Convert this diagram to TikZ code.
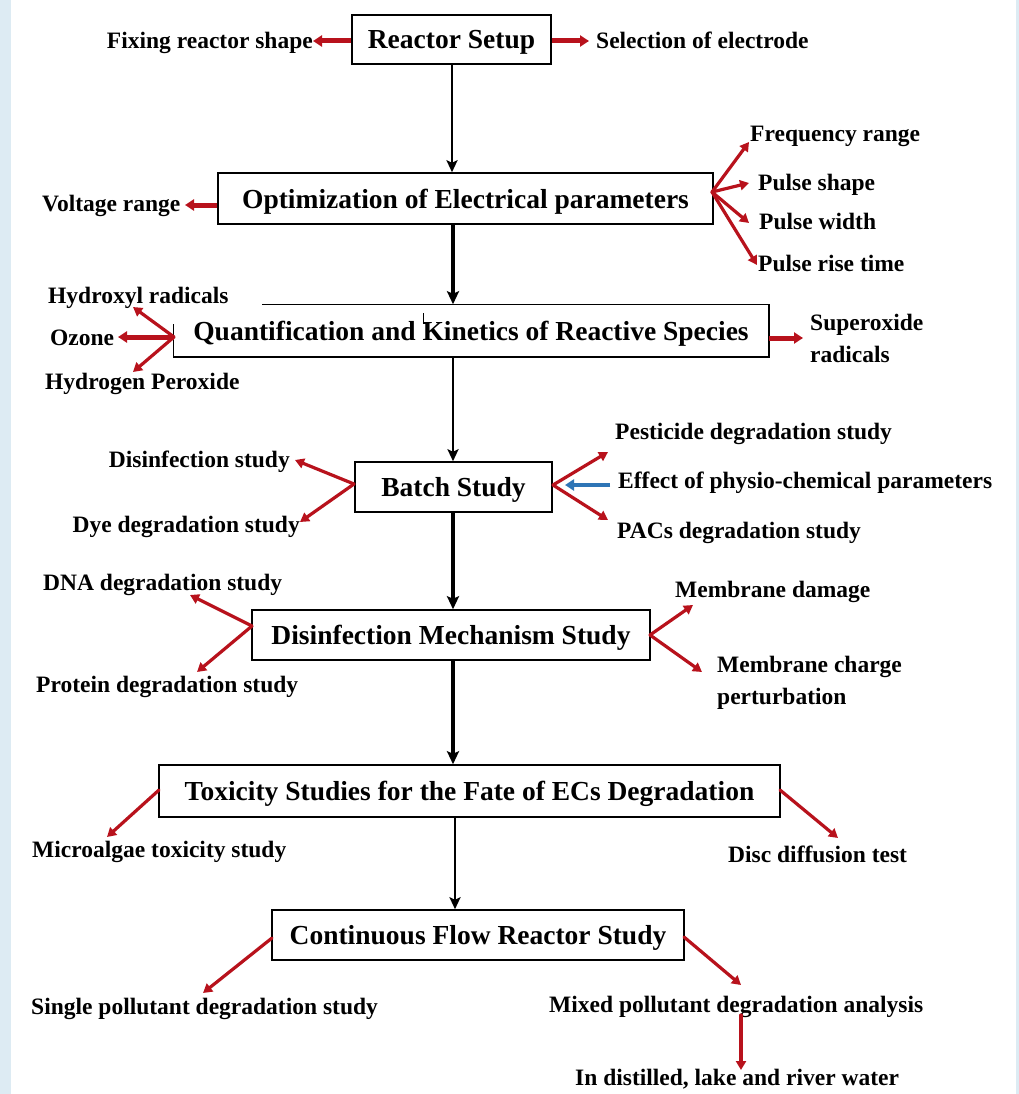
\documentclass[tikz,border=0pt]{standalone}
\usepackage{fontspec}
\setmainfont{Liberation Serif}
\usetikzlibrary{arrows.meta}
\definecolor{arrred}{HTML}{B8121C}
\definecolor{arrblue}{HTML}{2E75B6}
\definecolor{stripblue}{HTML}{DDEBF3}
\begin{document}
\begin{tikzpicture}[x=1pt,y=-1pt,
  box/.style={draw,line width=1.5pt,inner sep=0pt,text height=21pt,text depth=2pt,
    font=\fontsize{27.5}{30}\selectfont\bfseries},
  lbl/.style={inner sep=0pt,font=\fontsize{23.5}{32}\selectfont\bfseries},
  flow/.style={line width=3.6pt,-{Stealth[length=13pt,width=12pt,inset=2.5pt]}},
  flowthin/.style={line width=2.4pt,-{Stealth[length=12pt,width=11pt,inset=2.5pt]}},
  rarr/.style={draw=arrred,line width=3.2pt,line cap=round,-{Triangle[length=9pt,width=10pt]}},
  rthick/.style={draw=arrred,line width=5pt,-{Triangle[length=9pt,width=11pt]}},
  barr/.style={draw=arrblue,line width=4.5pt,-{Triangle[length=9pt,width=11pt]}}
]
\useasboundingbox (0,0) rectangle (1019,1094);
\fill[white] (0,0) rectangle (1019,1094);
\fill[stripblue] (0,0) rectangle (11,1094);
\fill[stripblue] (1016,0) rectangle (1019,1094);

% main boxes
\node[box,minimum width=199pt,minimum height=49pt] (setup) at (451.5,39.5) {Reactor Setup};
\node[box,minimum width=495pt,minimum height=51pt] (opt) at (465.5,198.5) {Optimization of Electrical parameters};
\node[box,draw=none,minimum width=594pt,minimum height=51pt] (quant) at (471,330.5) {Quantification and Kinetics of Reactive Species};
\draw[line width=1.5pt] (quant.north west) ++(89,0) -- (quant.north east) -- (quant.south east) -- (quant.south west) -- ++(0,-33);
\draw[line width=1pt] (423,313) -- (423,323) -- (426,323);
\node[box,minimum width=197pt,minimum height=50pt] (batch) at (453.5,487) {Batch Study};
\node[box,minimum width=398pt,minimum height=50pt] (mech) at (451,635) {Disinfection Mechanism Study};
\node[box,minimum width=621pt,minimum height=52pt] (tox) at (469.5,791) {Toxicity Studies for the Fate of ECs Degradation};
\node[box,minimum width=412pt,minimum height=50pt] (cont) at (478,935) {Continuous Flow Reactor Study};

% main flow
\draw[flowthin] (setup.south -| 452,0) -- (opt.north -| 452,0);
\draw[flow] (opt.south -| 453,0) -- (quant.north -| 453,0);
\draw[flowthin] (quant.south -| 453,0) -- (batch.north -| 453,0);
\draw[flow] (batch.south -| 453,0) -- (mech.north -| 453,0);
\draw[flow] (mech.south -| 453,0) -- (tox.north -| 453,0);
\draw[flowthin] (tox.south -| 455,0) -- (cont.north -| 455,0);

% labels
\node[lbl,anchor=base east] (fix) at (313,48.5) {Fixing reactor shape};
\node[lbl,anchor=base west] (sel) at (596,48.5) {Selection of electrode};
\node[lbl,anchor=base west] (volt) at (42,211.5) {Voltage range};
\node[lbl,anchor=base west] (freq) at (750,142) {Frequency range};
\node[lbl,anchor=base west] (pshape) at (758,190.5) {Pulse shape};
\node[lbl,anchor=base west] (pwidth) at (759,229.5) {Pulse width};
\node[lbl,anchor=base west] (prise) at (758,271.5) {Pulse rise time};
\node[lbl,anchor=base west] (hydroxyl) at (48,303.5) {Hydroxyl radicals};
\node[lbl,anchor=base west] (ozone) at (50,345.5) {Ozone};
\node[lbl,anchor=base west] (perox) at (45,389.5) {Hydrogen Peroxide};
\node[lbl,anchor=base west,align=left] (super) at (810,362.5) {Superoxide\\radicals};
\node[lbl,anchor=base east] (disinf) at (290,467.5) {Disinfection study};
\node[lbl,anchor=base east] (dye) at (300,532) {Dye degradation study};
\node[lbl,anchor=base west] (pest) at (615,439.5) {Pesticide degradation study};
\node[lbl,anchor=base west] (effect) at (618,488) {Effect of physio-chemical parameters};
\node[lbl,anchor=base west] (pacs) at (617,538.5) {PACs degradation study};
\node[lbl,anchor=base west] (dna) at (43,590) {DNA degradation study};
\node[lbl,anchor=base west] (protein) at (36,692.5) {Protein degradation study};
\node[lbl,anchor=base west] (memdam) at (675,597.5) {Membrane damage};
\node[lbl,anchor=base west,align=left] (memch) at (717,704.5) {Membrane charge\\perturbation};
\node[lbl,anchor=base west] (micro) at (32,857.5) {Microalgae toxicity study};
\node[lbl,anchor=base west] (disc) at (728,862.5) {Disc diffusion test};
\node[lbl,anchor=base west] (single) at (31,1014.5) {Single pollutant degradation study};
\node[lbl,anchor=base west] (mixed) at (549,1012.5) {Mixed pollutant degradation analysis};
\node[lbl,anchor=base west] (indist) at (575,1085.5) {In distilled, lake and river water};

% fan origins and tips
\coordinate (oOpt) at (712,192);
\coordinate (tFreq) at (749,142);
\coordinate (tShape) at (749,183);
\coordinate (tWidth) at (749,223);
\coordinate (tRise) at (757,265);
\coordinate (oQ) at (174,337);
\coordinate (tHyd) at (133,307);
\coordinate (tOz) at (118,337);
\coordinate (tPer) at (133,372);
\coordinate (oBL) at (354,484);
\coordinate (tDis) at (295,460);
\coordinate (tDye) at (300,522);
\coordinate (oBR) at (553,485);
\coordinate (tPest) at (608,452);
\coordinate (tPacs) at (608,520);
\coordinate (tEff) at (565,485);
\coordinate (oML) at (252,626);
\coordinate (tDna) at (190,595);
\coordinate (tProt) at (197,672);
\coordinate (oMR) at (650,635);
\coordinate (tMd) at (693,605);
\coordinate (tMc) at (702,672);
\coordinate (oTL) at (159,790);
\coordinate (tMic) at (107,837);
\coordinate (oTR) at (780,790);
\coordinate (tDisc) at (838,838);
\coordinate (oCL) at (272,938);
\coordinate (tSin) at (203,993);
\coordinate (oCR) at (684,937);
\coordinate (tMix) at (741,985);
\coordinate (oMix) at (741,1015);
\coordinate (tInd) at (741,1070);

% red connectors
\draw[rthick] (setup.west |- 0,41) -- (fix.east |- 0,41);
\draw[rthick] (setup.east |- 0,41) -- (589,41);
\draw[rthick] (opt.west |- 0,205) -- (185,205);
\draw[rarr] (oOpt) -- (tFreq);
\draw[rarr] (oOpt) -- (tShape);
\draw[rarr] (oOpt) -- (tWidth);
\draw[rarr] (oOpt) -- (tRise);
\draw[rarr] (oQ) -- (tHyd);
\draw[rthick] (oQ) -- (tOz);
\draw[rarr] (oQ) -- (tPer);
\draw[rthick] (quant.east |- 0,338) -- (803,338);
\draw[rarr] (oBL) -- (tDis);
\draw[rarr] (oBL) -- (tDye);
\draw[rarr] (oBR) -- (tPest);
\draw[rarr] (oBR) -- (tPacs);
\draw[barr] (610,485) -- (tEff);
\draw[rarr] (oML) -- (tDna);
\draw[rarr] (oML) -- (tProt);
\draw[rarr] (oMR) -- (tMd);
\draw[rarr] (oMR) -- (tMc);
\draw[rarr] (oTL) -- (tMic);
\draw[rarr] (oTR) -- (tDisc);
\draw[rarr] (oCL) -- (tSin);
\draw[rarr] (oCR) -- (tMix);
\draw[rarr] (oMix) -- (tInd);
\end{tikzpicture}
\end{document}
